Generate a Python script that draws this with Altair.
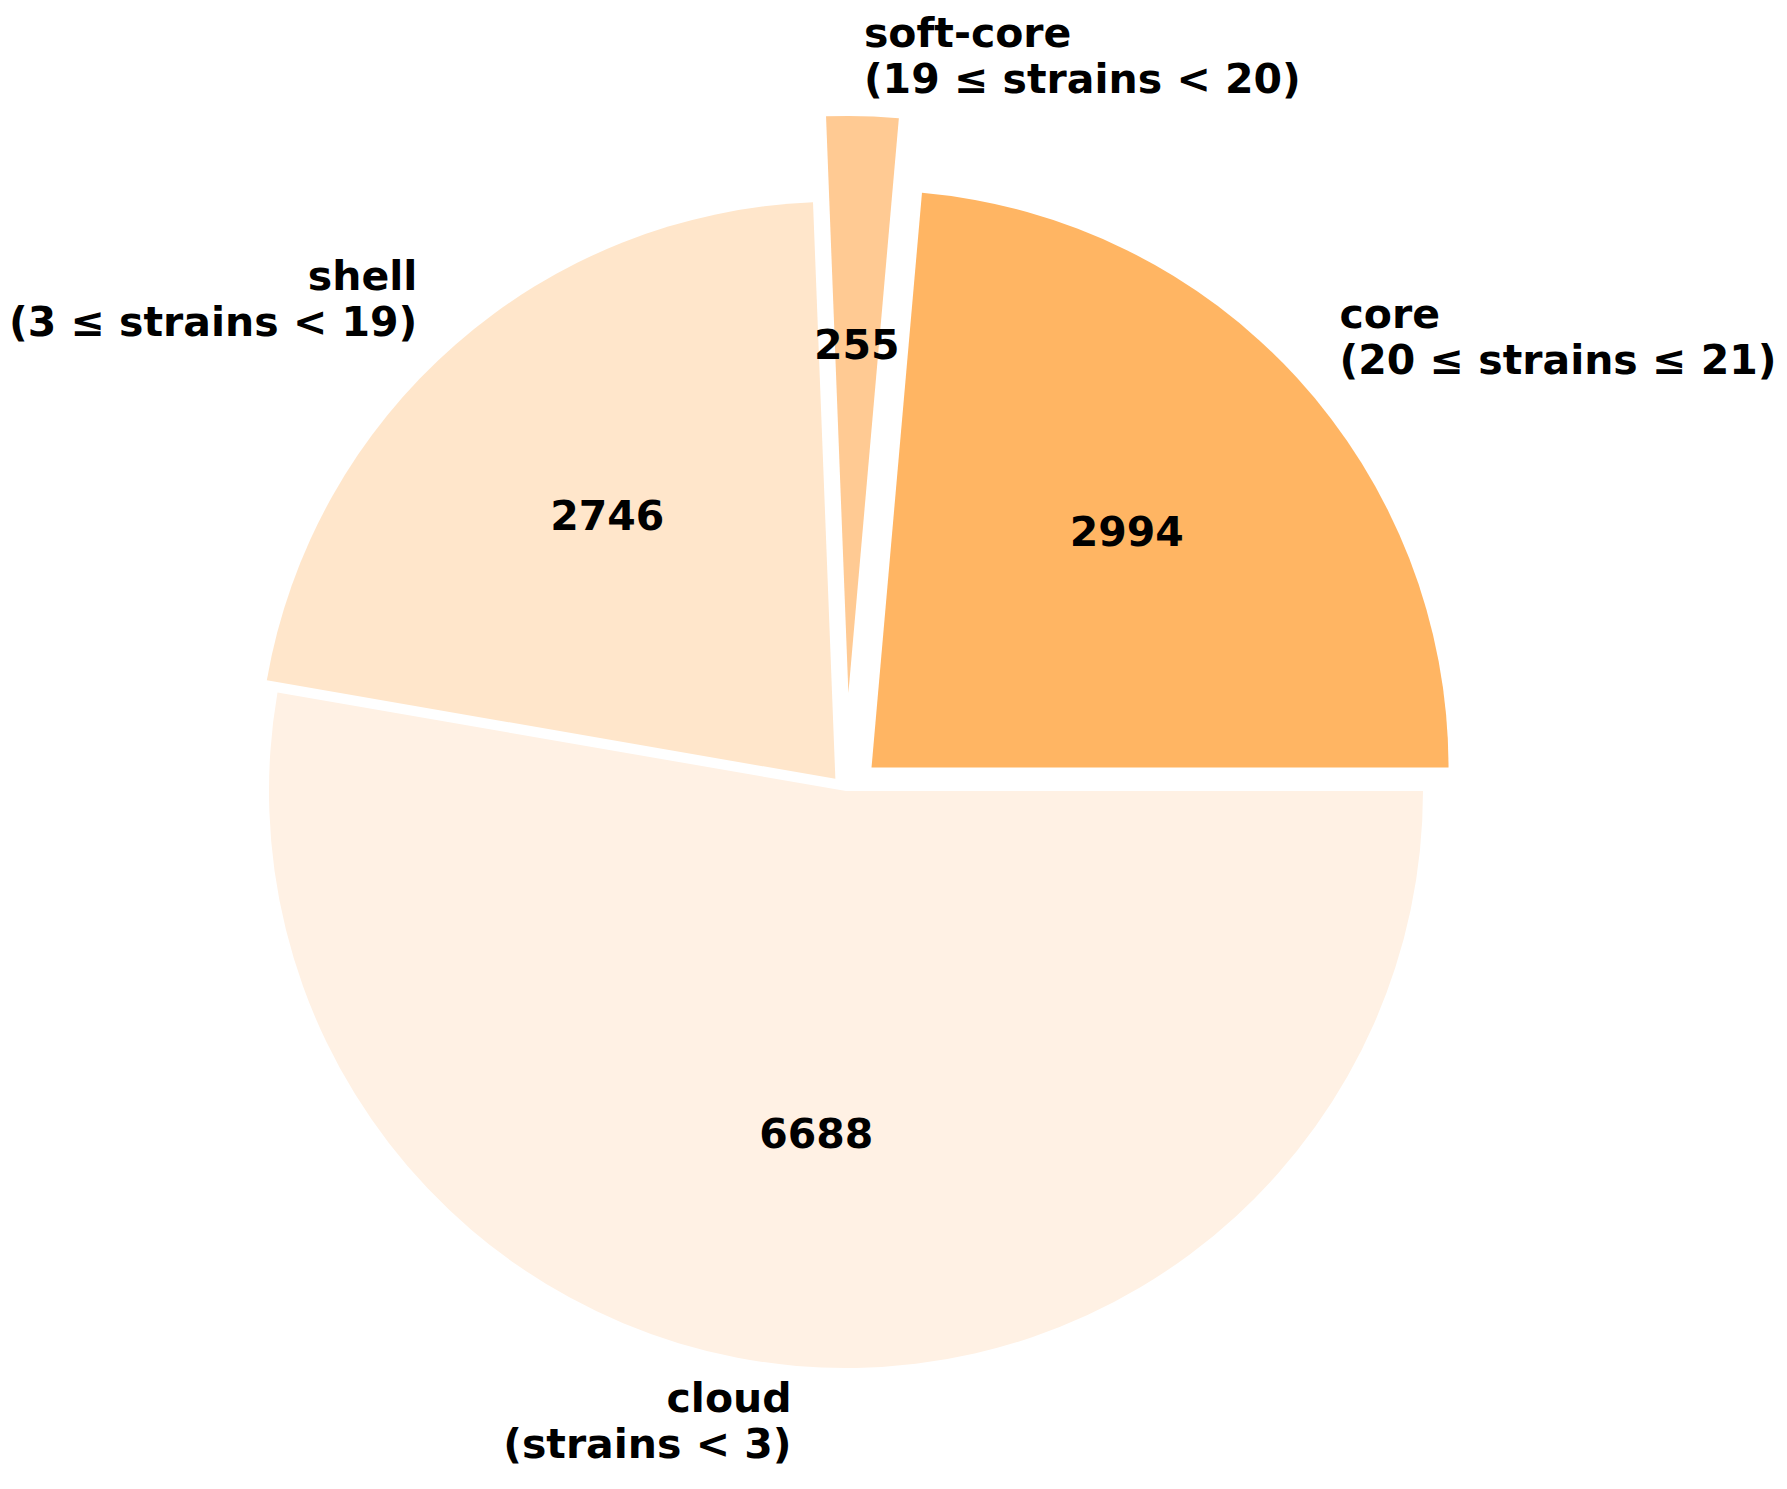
import math
import altair as alt
import pandas as pd

# ---- data ----
categories = ["core", "soft-core", "shell", "cloud"]
ranges = ["(20 ≤ strains ≤ 21)", "(19 ≤ strains < 20)", "(3 ≤ strains < 19)", "(strains < 3)"]
counts = [2994, 255, 2746, 6688]
explode = [0.06, 0.17, 0.028, 0.0]
colors = ["#FFB563", "#FFCA93", "#FFE6CB", "#FFF1E4"]

# ---- layout constants ----
W, H = 1771, 1473          # plot area in px
R = 577                    # pie radius in px
CX, CY = 838, 783          # pie centre in px
LABEL_DIST = 1.1
PCT_DIST = 0.6
LINE_H = 46

total = sum(counts)
rows = []
cum = 0
for cat, rng, n, ex in zip(categories, ranges, counts, explode):
    a1 = 2 * math.pi * cum / total
    cum += n
    a2 = 2 * math.pi * cum / total
    mid = (a1 + a2) / 2
    dx, dy = ex * math.cos(mid), ex * math.sin(mid)
    rows.append(dict(
        category=cat,
        label=f"{cat}\n{rng}",
        count=n,
        # vega angles: 0 at 12 o'clock, clockwise; matplotlib: 0 at 3 o'clock, ccw
        start=math.pi / 2 - a1,
        end=math.pi / 2 - a2,
        cx=dx, cy=dy,
        lx=dx + LABEL_DIST * math.cos(mid), ly=dy + LABEL_DIST * math.sin(mid),
        vx=dx + PCT_DIST * math.cos(mid), vy=dy + PCT_DIST * math.sin(mid),
        side="left" if math.cos(mid) >= 0 else "right",
    ))
df = pd.DataFrame(rows)

xs = alt.Scale(domain=[-CX / R, (W - CX) / R], nice=False, zero=False)
ys = alt.Scale(domain=[-(H - CY) / R, CY / R], nice=False, zero=False)
noax = None

base = alt.Chart(df)

arcs = base.mark_arc(radius=R).encode(
    x=alt.X("cx:Q", scale=xs, axis=noax),
    y=alt.Y("cy:Q", scale=ys, axis=noax),
    theta=alt.Theta("start:Q", scale=None, stack=None),
    theta2="end:Q",
    color=alt.Color("category:N", scale=alt.Scale(domain=categories, range=colors), legend=None),
)

font = "DejaVu Sans"
lab_kw = dict(font=font, fontWeight="bold", fontSize=41, lineBreak="\n", lineHeight=LINE_H,
              baseline="middle", dy=-LINE_H / 2, color="black")

labels_left = base.transform_filter(alt.datum.side == "left").mark_text(align="left", **lab_kw).encode(
    x=alt.X("lx:Q", scale=xs, axis=noax),
    y=alt.Y("ly:Q", scale=ys, axis=noax),
    text="label:N",
)
labels_right = base.transform_filter(alt.datum.side == "right").mark_text(align="right", **lab_kw).encode(
    x=alt.X("lx:Q", scale=xs, axis=noax),
    y=alt.Y("ly:Q", scale=ys, axis=noax),
    text="label:N",
)
values = base.mark_text(align="center", baseline="middle", font=font, fontWeight="bold",
                        fontSize=41, color="black").encode(
    x=alt.X("vx:Q", scale=xs, axis=noax),
    y=alt.Y("vy:Q", scale=ys, axis=noax),
    text="count:Q",
)

chart = alt.layer(arcs, labels_left, labels_right, values).properties(
    width=W, height=H, padding=0, autosize=alt.AutoSizeParams(type="none")
).configure_view(stroke=None)

chart.save("out.html", embed_options={"renderer": "svg", "actions": False})
